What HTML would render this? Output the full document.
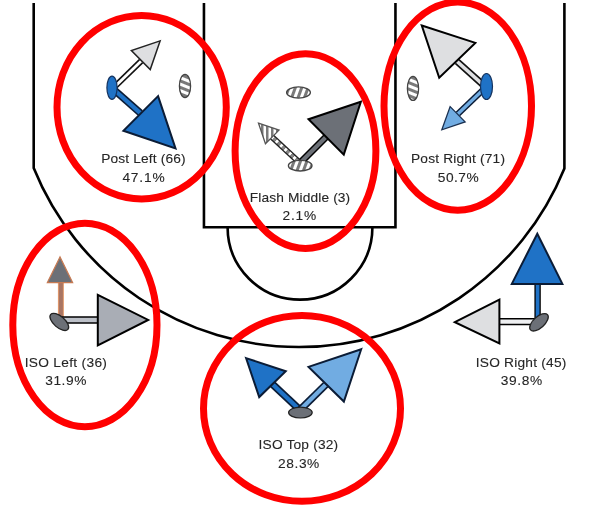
<!DOCTYPE html>
<html><head><meta charset="utf-8">
<style>
html,body{margin:0;padding:0;background:#fff;}
svg{display:block;will-change:transform;}
text{font-family:"Liberation Sans",sans-serif;font-size:12.5px;fill:#262626;stroke:#262626;stroke-width:0.1px;text-anchor:middle;}
</style></head>
<body>
<svg width="600" height="525" viewBox="0 0 600 525">
<defs>
<pattern id="strH" patternUnits="userSpaceOnUse" width="6" height="6" patternTransform="rotate(22)">
<rect width="6" height="6" fill="#fff"/><rect width="6" height="3" fill="#7a7a7a"/>
</pattern>
<pattern id="strV" patternUnits="userSpaceOnUse" width="6" height="6" patternTransform="rotate(20)">
<rect width="6" height="6" fill="#fff"/><rect width="3" height="6" fill="#7a7a7a"/>
</pattern>
<pattern id="strT" patternUnits="userSpaceOnUse" width="5" height="5" x="1">
<rect width="5" height="5" fill="#fff"/><rect width="2.5" height="5" fill="#7a7a7a"/>
</pattern>
</defs>
<rect width="600" height="525" fill="#fff"/>

<g fill="none" stroke="#000" stroke-width="2.6">
<path d="M203.95 3 V227.2 H395.45 V3"/>
<path d="M33.7 3 V168 A286.3 286.3 0 0 0 564.4 168.5 V3" stroke-width="2.6" stroke-linejoin="round"/>
<path d="M227.6 227.3 A72.4 72.4 0 0 0 372.4 227.3" stroke-width="2.6"/>
</g>
<line x1="112.7" y1="88.7" x2="141.2" y2="61" stroke="#111" stroke-width="6"/><line x1="112.7" y1="88.7" x2="141.2" y2="61" stroke="#fff" stroke-width="2.8" />
<polygon points="160.10,40.90 131.39,50.47 150.24,69.61" fill="#dedfe1" stroke="#222" stroke-width="1.5" stroke-miterlimit="10"/>
<line x1="112" y1="88" x2="140.4" y2="113.1" stroke="#0b1c36" stroke-width="7.4"/><line x1="112" y1="88" x2="140.4" y2="113.1" stroke="#1f72c6" stroke-width="4.2" />
<polygon points="158.08,96.13 123.42,130.79 175.51,148.50" fill="#1f72c6" stroke="#0b1c36" stroke-width="2" stroke-miterlimit="10"/>
<ellipse cx="112" cy="87.7" rx="5.1" ry="11.6" fill="#1f72c6" stroke="#15335e" stroke-width="1.2"/>
<ellipse cx="185" cy="86" rx="5.6" ry="11.6" fill="url(#strH)" stroke="#444" stroke-width="1.3"/>
<ellipse cx="298.5" cy="92.5" rx="11.9" ry="5.6" fill="url(#strV)" stroke="#444" stroke-width="1.3"/>
<line x1="300" y1="163" x2="326" y2="137" stroke="#000" stroke-width="7"/><line x1="300" y1="163" x2="326" y2="137" stroke="#6c7077" stroke-width="4.0" />
<polygon points="360.82,101.79 308.52,119.22 343.78,154.67" fill="#6c7077" stroke="#000" stroke-width="2" stroke-miterlimit="10"/>
<line x1="300" y1="163" x2="272" y2="137" stroke="#222" stroke-width="6"/>
<line x1="300" y1="163" x2="272" y2="137" stroke="#fff" stroke-width="3.4" stroke-dasharray="3 3"/>
<line x1="300" y1="163" x2="272" y2="137" stroke="#888" stroke-width="3.4" stroke-dasharray="3 3" stroke-dashoffset="3"/>
<polygon points="258.52,123.22 279.00,130.14 265.44,143.80" fill="url(#strT)" stroke="#555" stroke-width="1.3" stroke-miterlimit="10"/>
<ellipse cx="300.2" cy="165.7" rx="11.8" ry="5.3" fill="url(#strV)" stroke="#444" stroke-width="1.3"/>
<line x1="486" y1="87.3" x2="457.1" y2="61.5" stroke="#111" stroke-width="7"/><line x1="486" y1="87.3" x2="457.1" y2="61.5" stroke="#dedfe1" stroke-width="3.6" />
<polygon points="421.79,25.48 475.35,42.92 439.22,77.79" fill="#dedfe1" stroke="#000" stroke-width="2" stroke-miterlimit="10"/>
<line x1="486.5" y1="86.5" x2="457.8" y2="114" stroke="#0b1c36" stroke-width="6.2"/><line x1="486.5" y1="86.5" x2="457.8" y2="114" stroke="#71ace2" stroke-width="3.2" />
<polygon points="441.83,129.78 450.13,106.60 465.11,121.86" fill="#71ace2" stroke="#1a3050" stroke-width="1.3" stroke-miterlimit="10"/>
<ellipse cx="486.5" cy="86.5" rx="6" ry="13" fill="#1f72c6" stroke="#15335e" stroke-width="1.2"/>
<ellipse cx="413" cy="88.4" rx="5.6" ry="12" fill="url(#strH)" stroke="#444" stroke-width="1.3"/>
<line x1="60.9" y1="283" x2="60.9" y2="318" stroke="#e39a6c" stroke-width="6"/><line x1="60.9" y1="283" x2="60.9" y2="318" stroke="#a97563" stroke-width="4" />
<polygon points="60.00,256.94 47.42,282.57 72.58,282.57" fill="#6c7077" stroke="#c77a52" stroke-width="1.3" stroke-miterlimit="10"/>
<line x1="62" y1="320" x2="98" y2="320" stroke="#000" stroke-width="7.4"/><line x1="62" y1="320" x2="98" y2="320" stroke="#bcc0c8" stroke-width="4.4" />
<polygon points="97.80,294.91 97.80,345.29 148.18,319.90" fill="#a9adb5" stroke="#000" stroke-width="2" stroke-miterlimit="10"/>
<ellipse cx="59.3" cy="321.9" rx="11.4" ry="5.6" transform="rotate(41 59.3 321.9)" fill="#6c7077" stroke="#222" stroke-width="1.3"/>
<line x1="300" y1="410" x2="272.8" y2="384.5" stroke="#0b1c36" stroke-width="7.6"/><line x1="300" y1="410" x2="272.8" y2="384.5" stroke="#1f72c6" stroke-width="4.199999999999999" />
<polygon points="246.09,358.09 285.76,371.22 259.22,397.09" fill="#1f72c6" stroke="#0b1c36" stroke-width="2" stroke-miterlimit="10"/>
<line x1="300" y1="410" x2="325.8" y2="384.6" stroke="#0b1c36" stroke-width="7.6"/><line x1="300" y1="410" x2="325.8" y2="384.6" stroke="#71ace2" stroke-width="4.199999999999999" />
<polygon points="361.21,349.19 308.53,366.91 343.88,401.58" fill="#71ace2" stroke="#0b1c36" stroke-width="2" stroke-miterlimit="10"/>
<ellipse cx="300.4" cy="412.6" rx="11.8" ry="5.4" fill="#6c7077" stroke="#222" stroke-width="1.2"/>
<line x1="537.6" y1="284" x2="537.6" y2="318" stroke="#000" stroke-width="6.4"/><line x1="537.6" y1="284" x2="537.6" y2="318" stroke="#1f72c6" stroke-width="3.8000000000000003" />
<polygon points="537.30,233.71 511.81,283.90 562.39,283.90" fill="#1f72c6" stroke="#0b1c36" stroke-width="2" stroke-miterlimit="10"/>
<line x1="499.9" y1="321.6" x2="537" y2="321.6" stroke="#000" stroke-width="7.2"/><line x1="499.9" y1="321.6" x2="537" y2="321.6" stroke="#eeeff1" stroke-width="4.2" />
<polygon points="454.84,322.19 499.40,299.71 499.40,343.41" fill="#dedfe1" stroke="#000" stroke-width="2" stroke-miterlimit="10"/>
<ellipse cx="539" cy="322.3" rx="11.4" ry="5.6" transform="rotate(-42 539 322.3)" fill="#6c7077" stroke="#222" stroke-width="1.3"/>
<text transform="translate(143.38 162.75) scale(1.1 1)" x="0" y="0" textLength="76.77" lengthAdjust="spacing">Post Left (66)</text>
<text transform="translate(143.50 181.5) scale(1.1 1)" x="0" y="0" textLength="38.36" lengthAdjust="spacing">47.1%</text>
<text transform="translate(300.00 201.6) scale(1.1 1)" x="0" y="0" textLength="91.27" lengthAdjust="spacing">Flash Middle (3)</text>
<text transform="translate(299.30 220) scale(1.1 1)" x="0" y="0" textLength="30.73" lengthAdjust="spacing">2.1%</text>
<text transform="translate(458.00 163) scale(1.1 1)" x="0" y="0" textLength="85.45" lengthAdjust="spacing">Post Right (71)</text>
<text transform="translate(458.20 182) scale(1.1 1)" x="0" y="0" textLength="37.09" lengthAdjust="spacing">50.7%</text>
<text transform="translate(65.80 366.7) scale(1.1 1)" x="0" y="0" textLength="74.73" lengthAdjust="spacing">ISO Left (36)</text>
<text transform="translate(65.80 385) scale(1.1 1)" x="0" y="0" textLength="37.45" lengthAdjust="spacing">31.9%</text>
<text transform="translate(298.35 449.2) scale(1.1 1)" x="0" y="0" textLength="72.27" lengthAdjust="spacing">ISO Top (32)</text>
<text transform="translate(298.70 467.5) scale(1.1 1)" x="0" y="0" textLength="37.45" lengthAdjust="spacing">28.3%</text>
<text transform="translate(521.05 366.7) scale(1.1 1)" x="0" y="0" textLength="82.45" lengthAdjust="spacing">ISO Right (45)</text>
<text transform="translate(521.50 385) scale(1.1 1)" x="0" y="0" textLength="37.82" lengthAdjust="spacing">39.8%</text>
<g fill="none" stroke="#ff0000" stroke-width="7">
<ellipse cx="141.65" cy="107.2" rx="84.65" ry="91.8"/>
<ellipse cx="305.5" cy="151.1" rx="70.4" ry="97.3"/>
<ellipse cx="457.75" cy="106.1" rx="73.75" ry="104.1"/>
<ellipse cx="84.9" cy="325" rx="72.1" ry="101.8"/>
<ellipse cx="302" cy="408.4" rx="98.5" ry="92.9"/>
</g>
</svg>
</body></html>
